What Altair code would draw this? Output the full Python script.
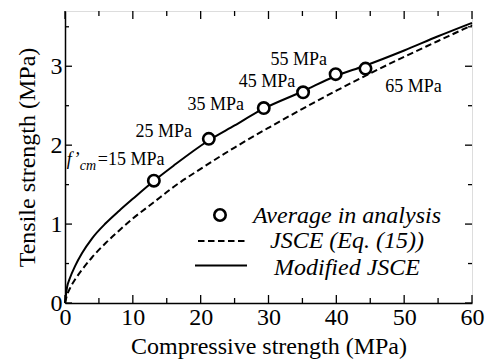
import altair as alt
import pandas as pd

FONT = "Liberation Serif"
W, H = 407, 292

# Modified JSCE curve
mod_x = [0, 0.3, 0.7, 1.5, 2.5, 4, 6, 8, 10, 13, 16, 21, 25, 29, 35, 40, 44, 50, 55, 60]
mod_y = [0, 0.20, 0.31, 0.47, 0.63, 0.82, 1.01, 1.17, 1.32, 1.54, 1.74, 2.05, 2.25, 2.45, 2.68, 2.88, 3.00, 3.20, 3.38, 3.55]
# JSCE (Eq. (15)) curve
jsce_x = [0, 0.3, 0.7, 1.5, 2.5, 4, 6, 8, 10, 13, 16, 20, 25, 30, 35, 40, 45, 50, 55, 60]
jsce_y = [0, 0.10, 0.18, 0.30, 0.42, 0.58, 0.76, 0.92, 1.07, 1.27, 1.47, 1.70, 1.97, 2.22, 2.46, 2.69, 2.91, 3.12, 3.32, 3.52]
# Average in analysis
pt_x = [13.1, 21.2, 29.3, 35.1, 39.9, 44.3]
pt_y = [1.55, 2.08, 2.47, 2.67, 2.90, 2.97]
pt_labels = ["15 MPa", "25 MPa", "35 MPa", "45 MPa", "55 MPa", "65 MPa"]

x_major = [0, 10, 20, 30, 40, 50, 60]
x_minor = [5, 15, 25, 35, 45, 55]
y_major = [0, 1, 2, 3]
y_minor = [0.5, 1.5, 2.5, 3.5]
legend_labels = ["Average in analysis", "JSCE (Eq. (15))", "Modified JSCE"]

xs = alt.Scale(domain=[0, 60], nice=False, zero=False)
ys = alt.Scale(domain=[0, 3.7], nice=False, zero=False)

mod_df = pd.DataFrame({"x": mod_x, "y": mod_y})
jsce_df = pd.DataFrame({"x": jsce_x, "y": jsce_y})
pt_df = pd.DataFrame({"x": pt_x, "y": pt_y, "label": pt_labels})

x_axis = alt.Axis(values=x_major, ticks=False, grid=False, labelFont=FONT, labelFontSize=24,
                  labelColor="black", labelPadding=2, labelFlush=False,
                  title="Compressive strength (MPa)", titleFont=FONT, titleFontSize=24,
                  titleFontWeight="normal", titleColor="black", titlePadding=5,
                  domainColor="black", domainWidth=1.5)
y_axis = alt.Axis(values=y_major, ticks=False, grid=False, labelFont=FONT, labelFontSize=24,
                  labelColor="black", labelPadding=3, labelFlush=False,
                  title="Tensile strength (MPa)", titleFont=FONT, titleFontSize=24,
                  titleFontWeight="normal", titleColor="black", titlePadding=11,
                  domainColor="black", domainWidth=1.5)


def X(f):
    return alt.X(f, scale=xs, axis=x_axis)


def Y(f):
    return alt.Y(f, scale=ys, axis=y_axis)


jsce = alt.Chart(jsce_df).mark_line(color="black", strokeWidth=2, strokeDash=[6.5, 3.5],
                                    interpolate="monotone").encode(x=X("x:Q"), y=Y("y:Q"))
mod = alt.Chart(mod_df).mark_line(color="black", strokeWidth=2,
                                  interpolate="monotone").encode(x=X("x:Q"), y=Y("y:Q"))
pts = alt.Chart(pt_df).mark_point(shape="circle", filled=True, fill="white", stroke="black",
                                  strokeWidth=2.6, size=130, opacity=1).encode(
    x=X("x:Q"), y=Y("y:Q"))

layers = [jsce, mod, pts]


# tick marks (inward, all four sides)
def tick_layers(vals, length, axis):
    d = pd.DataFrame({"x": vals, "y": vals})
    c = alt.Chart(d).mark_rule(color="black", strokeWidth=1.3)
    if axis == "x":
        e = X("x:Q")
        return [c.encode(x=e, y=alt.value(H), y2=alt.value(H - length)),
                c.encode(x=e, y=alt.value(0), y2=alt.value(length))]
    e = Y("y:Q")
    return [c.encode(y=e, x=alt.value(0), x2=alt.value(length)),
            c.encode(y=e, x=alt.value(W), x2=alt.value(W - length))]


layers += tick_layers(x_major, 8, "x") + tick_layers(x_minor, 5, "x")
layers += tick_layers(y_major, 7, "y") + tick_layers(y_minor, 4, "y")

# point annotations: offsets (dx, dy) from each point
offsets = {1: (-45, -2), 2: (-48, 2), 3: (-36, -5), 4: (-37, -9), 5: (48, 23)}
for i, (dx, dy) in offsets.items():
    layers.append(alt.Chart(pt_df.iloc[[i]]).mark_text(
        font=FONT, fontSize=18, color="black", align="center", baseline="alphabetic",
        dx=dx, dy=dy).encode(x=X("x:Q"), y=Y("y:Q"), text="label:N"))

first = pt_df.iloc[[0]]


def part(txt, dx, dy, size, style):
    return alt.Chart(first).mark_text(
        font=FONT, fontSize=size, fontStyle=style, color="black", align="left",
        baseline="alphabetic", dx=dx, dy=dy, text=txt).encode(x=X("x:Q"), y=Y("y:Q"))


layers += [part("f\u2019", -87, -16, 18, "italic"),
           part("cm", -74, -11, 14, "italic"),
           part("=15 MPa", -56, -16, 18, "normal")]

# legend
one = pd.DataFrame({"a": [0]})
layers.append(alt.Chart(one).mark_point(shape="circle", filled=True, fill="white", stroke="black",
                                        strokeWidth=2.6, size=130, opacity=1).encode(
    x=alt.value(155), y=alt.value(204)))
layers.append(alt.Chart(one).mark_rule(color="black", strokeWidth=2, strokeDash=[6.5, 3.5]).encode(
    x=alt.value(133), x2=alt.value(182), y=alt.value(230)))
layers.append(alt.Chart(one).mark_rule(color="black", strokeWidth=2).encode(
    x=alt.value(130), x2=alt.value(182), y=alt.value(254.5)))
for lab, yb in zip(legend_labels, [212, 237, 264]):
    layers.append(alt.Chart(one).mark_text(
        font=FONT, fontSize=24, fontStyle="italic", color="black", align="center",
        baseline="alphabetic", text=lab).encode(x=alt.value(282), y=alt.value(yb)))

chart = alt.layer(*layers).properties(
    width=W, height=H,
    padding={"left": 65, "top": 11, "right": 18, "bottom": 58},
    autosize=alt.AutoSizeParams(type="none"),
).configure_view(stroke="black", strokeWidth=1.5).configure(background="white")

chart.save("out.html", embed_options={"renderer": "svg", "actions": False})
